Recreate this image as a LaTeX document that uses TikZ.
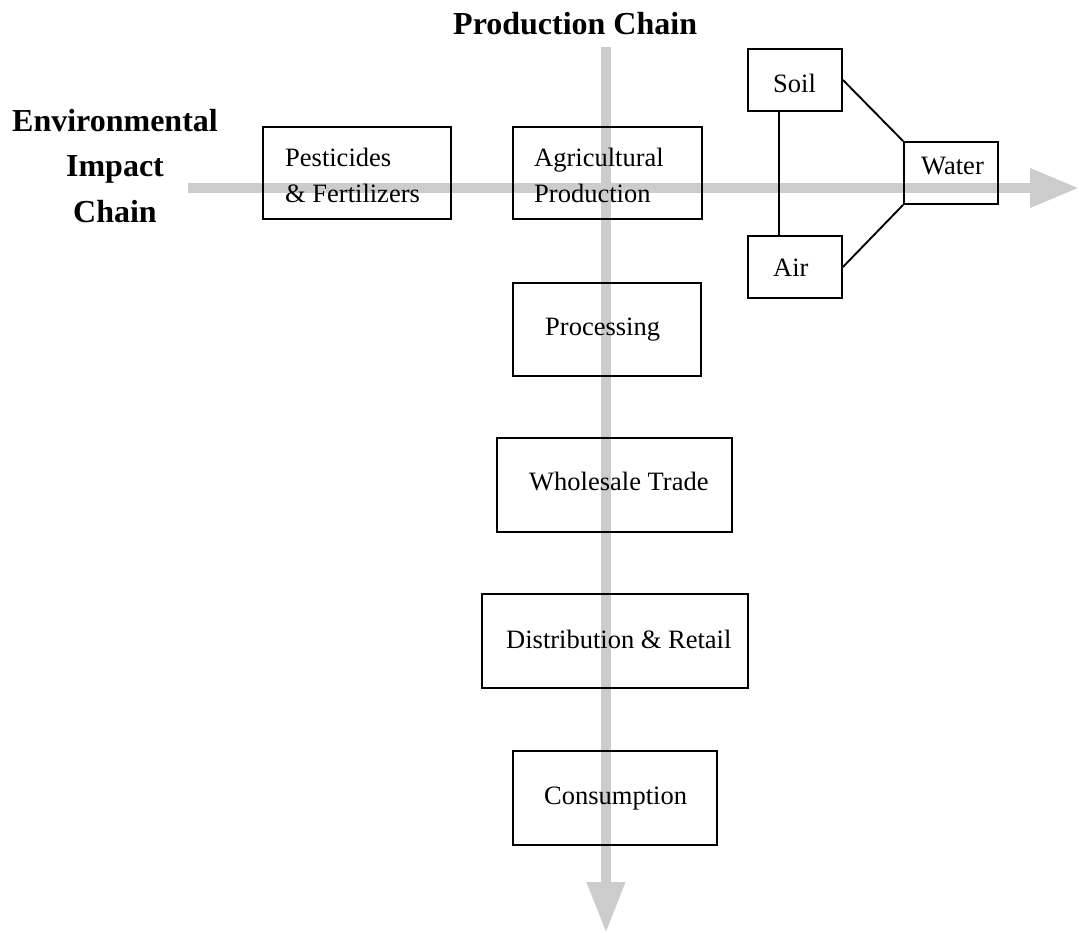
\documentclass[tikz,border=0pt]{standalone}
\usepackage{fontspec}
\setmainfont{Liberation Serif}
\usetikzlibrary{arrows.meta}
\begin{document}
\begin{tikzpicture}[x=1pt,y=-1pt,
  chain/.style={draw=black!20, line width=10pt},
  box/.style={draw=black, line width=1.9pt, inner sep=0pt},
  lbl/.style={font=\fontsize{26.5}{37}\selectfont, inner sep=0pt, anchor=base west},
  link/.style={draw=black, line width=1.9pt},
  title/.style={font=\bfseries\fontsize{32}{45.5}\selectfont, align=center, inner sep=0pt}]
\useasboundingbox (0,0) rectangle (1079,933);
% chains
\coordinate (hstart) at (188,188);
\coordinate (hend) at (1079,188);
\coordinate (vstart) at (606,47);
\coordinate (vend) at (606,933);
\draw[chain, -{Triangle[width=37pt,length=49pt]}] (hstart) -- (hend);
\draw[chain, -{Triangle[width=36pt,length=51pt]}] (vstart) -- (vend);
% titles
\node[title, anchor=base west] (prodtitle) at (453,35) {Production Chain};
\node[title] (envtitle) at (115,166) {Environmental\\Impact\\Chain};
% boxes
\node[box, minimum width=188pt, minimum height=92pt] (pest) at (357,173) {};
\node[box, minimum width=189pt, minimum height=92pt] (agri) at (607.5,173) {};
\node[box, minimum width=94pt, minimum height=62pt] (soil) at (795,80) {};
\node[box, minimum width=94pt, minimum height=62pt] (water) at (951,173) {};
\node[box, minimum width=94pt, minimum height=62pt] (air) at (795,267) {};
\node[box, minimum width=188pt, minimum height=93pt] (proc) at (607,329.5) {};
\node[box, minimum width=235pt, minimum height=94pt] (whole) at (614.5,485) {};
\node[box, minimum width=266pt, minimum height=94pt] (dist) at (615,641) {};
\node[box, minimum width=204pt, minimum height=94pt] (cons) at (615,798) {};
% labels
\node[lbl] (pestA) at (285,167) {Pesticides};
\node[lbl] (pestB) at (285,203) {\& Fertilizers};
\node[lbl] (agriA) at (534,167) {Agricultural};
\node[lbl] (agriB) at (534,203) {Production};
\node[lbl] (soilT) at (773,93) {Soil};
\node[lbl] (waterT) at (921,175) {Water};
\node[lbl] (airT) at (773,277) {Air};
\node[lbl] (procT) at (545,335) {Processing};
\node[lbl] (wholeT) at (529,490) {Wholesale Trade};
\node[lbl] (distT) at (506,648) {Distribution \& Retail};
\node[lbl] (consT) at (544,804) {Consumption};
% connectors
\draw[link] ([xshift=-16pt]soil.south) -- ([xshift=-16pt]air.north);
\draw[link] (soil.east) -- (water.north west);
\draw[link] (air.east) -- (water.south west);
\end{tikzpicture}
\end{document}
